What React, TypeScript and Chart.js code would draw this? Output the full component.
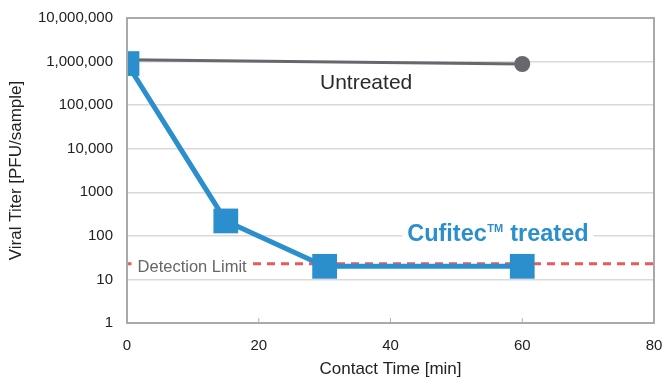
import React, { useEffect, useRef } from "react";
import { Chart, registerables } from "chart.js";

Chart.register(...registerables);

const contactTimes = [0, 15, 30, 60];
const treatedTiter = [900000, 220, 20, 20];
const untreatedTimes = [0, 60];
const untreatedTiter = [1100000, 880000];
const detectionLimit = 23;
const xRange = [0, 80];
const xTickValues = [0, 20, 40, 60, 80];
const yTickValues = [1, 10, 100, 1000, 10000, 100000, 1000000, 10000000];
const yTickLabels = ["1", "10", "100", "1000", "10,000", "100,000", "1,000,000", "10,000,000"];
const yAxisTitle = "Viral Titer [PFU/sample]";
const xAxisTitle = "Contact Time [min]";
const untreatedLabel = "Untreated";
const treatedLabel = ["Cufitec", "TM", " treated"];
const detectionLabel = "Detection Limit";

const BLUE = "#2a8fcc";
const GRAY = "#67686d";
const RED = "#e85a5c";
const FONT = "'Liberation Sans', Arial, sans-serif";

const overlayPlugin = {
  id: "overlay",
  afterDatasetsDraw(chart: any) {
    const { ctx, chartArea, scales } = chart;
    const xs = scales.x;
    const ys = scales.y;
    ctx.save();
    // inner tick marks on x axis
    ctx.strokeStyle = "#b5b5b5";
    ctx.lineWidth = 1;
    xTickValues.forEach((v) => {
      const px = xs.getPixelForValue(v);
      ctx.beginPath();
      ctx.moveTo(px, chartArea.bottom);
      ctx.lineTo(px, chartArea.bottom - 5);
      ctx.stroke();
    });
    // border
    ctx.strokeStyle = "#a9a9a9";
    ctx.lineWidth = 2;
    ctx.strokeRect(chartArea.left, chartArea.top, chartArea.right - chartArea.left, chartArea.bottom - chartArea.top);

    // Untreated label
    ctx.font = `21px ${FONT}`;
    ctx.fillStyle = "#2a2a2a";
    ctx.textAlign = "center";
    ctx.textBaseline = "middle";
    ctx.fillText(untreatedLabel, xs.getPixelForValue(36.3), ys.getPixelForValue(320000));

    // Detection limit label
    ctx.font = `16.5px ${FONT}`;
    const dlW = ctx.measureText(detectionLabel).width;
    const dlX = xs.getPixelForValue(1.6);
    const dlY = ys.getPixelForValue(detectionLimit) + 4;
    ctx.fillStyle = "#ffffff";
    ctx.fillRect(dlX - 6, dlY - 10, dlW + 11, 20);
    ctx.fillStyle = "#666666";
    ctx.textAlign = "left";
    ctx.fillText(detectionLabel, dlX, dlY);

    // Treated label
    const f1 = `bold 23.5px ${FONT}`;
    const f2 = `bold 11px ${FONT}`;
    ctx.font = f1;
    const w1 = ctx.measureText(treatedLabel[0]).width;
    const w3 = ctx.measureText(treatedLabel[2]).width;
    ctx.font = f2;
    const w2 = ctx.measureText(treatedLabel[1]).width + 1;
    const total = w1 + w2 + w3;
    const cx = xs.getPixelForValue(56.3);
    const cy = ys.getPixelForValue(115);
    const sx = cx - total / 2;
    ctx.fillStyle = "#ffffff";
    ctx.fillRect(sx - 5, cy - 12, total + 10, 24);
    ctx.fillStyle = BLUE;
    ctx.textAlign = "left";
    ctx.textBaseline = "alphabetic";
    ctx.font = f1;
    ctx.fillText(treatedLabel[0], sx, cy + 8);
    ctx.font = f2;
    ctx.fillText(treatedLabel[1], sx + w1 + 0.5, cy - 1);
    ctx.font = f1;
    ctx.fillText(treatedLabel[2], sx + w1 + w2, cy + 8);
    ctx.restore();
  },
};

export default function App() {
  const ref = useRef<HTMLCanvasElement | null>(null);
  useEffect(() => {
    if (!ref.current) return;
    const chart = new Chart(ref.current, {
      type: "line",
      data: {
        datasets: [
          {
            label: "Cufitec treated",
            data: contactTimes.map((x, i) => ({ x, y: treatedTiter[i] })),
            borderColor: BLUE,
            backgroundColor: BLUE,
            borderWidth: 5,
            pointStyle: "rect",
            pointRadius: 17.5,
            pointBorderWidth: 0,
            order: 0,
          },
          {
            label: "Untreated",
            data: untreatedTimes.map((x, i) => ({ x, y: untreatedTiter[i] })),
            borderColor: GRAY,
            backgroundColor: GRAY,
            borderWidth: 3,
            pointRadius: [0, 8],
            pointBorderWidth: 0,
            order: 1,
          },
          {
            label: "Detection Limit",
            data: xRange.map((x) => ({ x, y: detectionLimit })),
            borderColor: RED,
            borderWidth: 3,
            borderDash: [8, 6],
            pointRadius: 0,
            order: 2,
          },
        ],
      },
      options: {
        animation: false,
        responsive: true,
        maintainAspectRatio: false,
        layout: { autoPadding: false, padding: { left: 0, top: 18, right: 8, bottom: 0 } },
        plugins: { legend: { display: false }, tooltip: { enabled: false } },
        elements: { line: { tension: 0 } },
        scales: {
          x: {
            type: "linear",
            min: xRange[0],
            max: xRange[1],
            afterBuildTicks: (s: any) => {
              s.ticks = xTickValues.map((v) => ({ value: v }));
            },
            afterFit: (s: any) => {
              s.height = 57;
              s.paddingLeft = 0;
              s.paddingRight = 0;
            },
            grid: { display: false, drawTicks: false },
            border: { display: false },
            ticks: {
              padding: 14,
              maxRotation: 0,
              color: "#222222",
              font: { family: FONT, size: 15 },
            },
            title: {
              display: true,
              text: xAxisTitle,
              color: "#222222",
              font: { family: FONT, size: 17 },
              padding: { top: 0, bottom: 0 },
            },
          },
          y: {
            type: "logarithmic",
            min: yTickValues[0],
            max: yTickValues[yTickValues.length - 1],
            afterBuildTicks: (s: any) => {
              s.ticks = yTickValues.map((v) => ({ value: v }));
            },
            afterFit: (s: any) => {
              s.width = 127;
              s.paddingTop = 0;
              s.paddingBottom = 0;
            },
            grid: { color: "#d9d9d9", lineWidth: 1.5, drawTicks: false },
            border: { display: false },
            ticks: {
              padding: 14,
              color: "#222222",
              font: { family: FONT, size: 15 },
              callback: (_v: any, i: number) => yTickLabels[i],
            },
            title: {
              display: true,
              text: yAxisTitle,
              color: "#222222",
              font: { family: FONT, size: 17 },
              padding: { top: 6, bottom: 0 },
            },
          },
        },
      },
      plugins: [overlayPlugin],
    });
    return () => chart.destroy();
  }, []);
  return (
    <div style={{ position: "fixed", left: 0, top: 0, width: 662, height: 380, background: "#fff" }}>
      <canvas ref={ref} />
    </div>
  );
}
